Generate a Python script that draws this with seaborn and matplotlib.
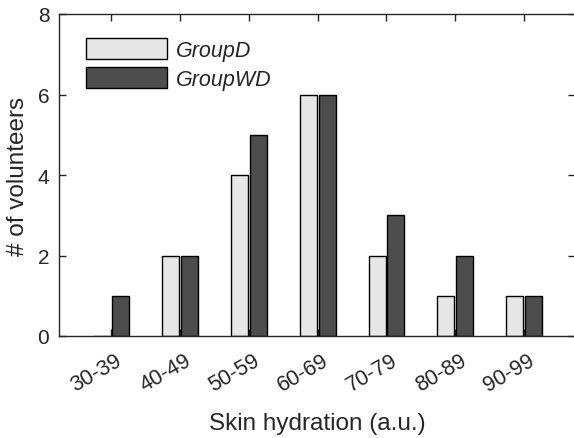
import matplotlib
matplotlib.use("Agg")
import matplotlib.pyplot as plt
import matplotlib.transforms as mtransforms
import seaborn as sns
import pandas as pd

categories = ["30-39", "40-49", "50-59", "60-69", "70-79", "80-89", "90-99"]
group_d = [0, 2, 4, 6, 2, 1, 1]
group_wd = [1, 2, 5, 6, 3, 2, 1]
series_names = ["GroupD", "GroupWD"]
y_ticks = [0, 2, 4, 6, 8]

df = pd.DataFrame({
    "range": categories * 2,
    "count": group_d + group_wd,
    "group": [series_names[0]] * len(categories) + [series_names[1]] * len(categories),
})

sns.set_theme(style="ticks")
plt.rcParams["font.family"] = ["Liberation Sans", "DejaVu Sans"]

fig = plt.figure(figsize=(5.74, 4.39), dpi=100)
ax = fig.add_axes([59 / 574, 1 - 337 / 439, (575 - 59) / 574, (337 - 15) / 439])

sns.barplot(
    data=df, x="range", y="count", hue="group", order=categories,
    hue_order=series_names, palette=["#e6e6e6", "#4d4d4d"],
    width=0.55, gap=0.1, edgecolor="black", linewidth=1.0,
    saturation=1, ax=ax,
)

ax.set_xlim(-0.76, 6.74)
ax.set_ylim(0, 8)
ax.set_yticks(y_ticks)
ax.set_xlabel("Skin hydration (a.u.)", fontsize=17.5, color="#262626", labelpad=12)
ax.set_ylabel("# of volunteers", fontsize=17.5, color="#262626", labelpad=6)

for side in ["left", "right", "top", "bottom"]:
    ax.spines[side].set_visible(True)
    ax.spines[side].set_color("#262626")
    ax.spines[side].set_linewidth(1.0)

ax.tick_params(axis="both", direction="in", length=5, width=1, color="#262626",
               labelsize=15, labelcolor="#262626", top=True, right=True)
ax.tick_params(axis="y", pad=7)
ax.tick_params(axis="x", pad=10, labelsize=15.5)
shift = mtransforms.ScaledTranslation(4 / 100, 0, fig.dpi_scale_trans)
for lbl in ax.get_xticklabels():
    lbl.set_rotation(30)
    lbl.set_ha("right")
    lbl.set_rotation_mode("anchor")
    lbl.set_transform(lbl.get_transform() + shift)

handles, labels = ax.get_legend_handles_labels()
ax.legend(handles, labels, loc="upper left", bbox_to_anchor=(0.036, 0.952),
          borderaxespad=0, frameon=False,
          prop={"style": "italic", "size": 15.5},
          handlelength=3.76, handleheight=1.1, handletextpad=0.4,
          labelspacing=0.3)

fig.savefig("out.png", dpi=100)
